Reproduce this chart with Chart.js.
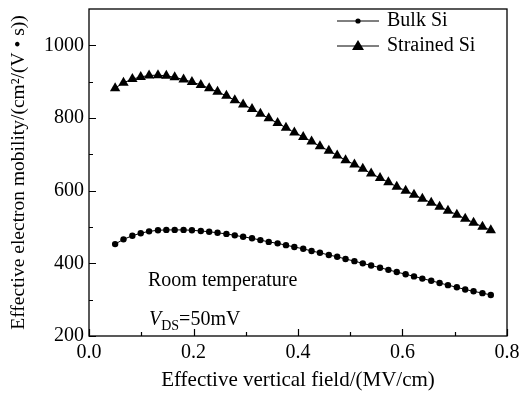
<!DOCTYPE html>
<html>
<head>
<meta charset="utf-8">
<script src="https://cdn.jsdelivr.net/npm/chart.js@4"></script>
<style>
  html, body { margin: 0; padding: 0; background: #fff; }
  #wrap { width: 532px; height: 393px; }
</style>
</head>
<body>
<div id="wrap"><canvas id="chart"></canvas></div>
<script>
// ── Data ──────────────────────────────────────────────────────────────────
const fieldX = [
  0.050, 0.066, 0.083, 0.099, 0.115, 0.132, 0.148, 0.164, 0.181, 0.197,
  0.214, 0.230, 0.246, 0.263, 0.279, 0.295, 0.312, 0.328, 0.344, 0.361,
  0.377, 0.393, 0.410, 0.426, 0.442, 0.459, 0.475, 0.491, 0.508, 0.524,
  0.540, 0.557, 0.573, 0.589, 0.606, 0.622, 0.638, 0.655, 0.671, 0.687,
  0.704, 0.720, 0.736, 0.753, 0.769
];
const bulkSi = [
  453, 466, 476, 483, 488, 491, 492, 492, 492, 491,
  489, 487, 484, 481, 477, 473, 469, 464, 459, 455,
  450, 445, 440, 434, 429, 423, 418, 412, 406, 400,
  394, 388, 382, 376, 370, 364, 358, 352, 346, 340,
  334, 328, 323, 318, 313
];
const strainedSi = [
  882, 897, 907, 913, 917, 918, 916, 912, 906, 899,
  891, 882, 872, 861, 849, 837, 825, 812, 799, 786,
  773, 760, 748, 735, 722, 710, 697, 684, 672, 660,
  647, 635, 623, 611, 600, 589, 578, 567, 556, 545,
  534, 523, 512, 501, 491
];
const xTicks = [0.0, 0.2, 0.4, 0.6, 0.8];
const xMinor = [0.1, 0.3, 0.5, 0.7];
const yTicks = [200, 400, 600, 800, 1000];
const yMinor = [300, 500, 700, 900];

const SERIF = '"Liberation Serif", "DejaVu Serif", serif';

// ── Plugins ───────────────────────────────────────────────────────────────

// frame box + inward ticks
const framePlugin = {
  id: 'frame',
  afterDraw(chart) {
    const { ctx, chartArea: a, scales } = chart;
    ctx.save();
    ctx.strokeStyle = '#000';
    ctx.lineWidth = 1.3;
    ctx.strokeRect(a.left, a.top, a.right - a.left, a.bottom - a.top);
    ctx.lineWidth = 1.2;
    ctx.beginPath();
    const tx = (v, len) => {
      const px = Math.round(scales.x.getPixelForValue(v)) + 0.5;
      ctx.moveTo(px, a.bottom); ctx.lineTo(px, a.bottom - len);
    };
    const ty = (v, len) => {
      const py = Math.round(scales.y.getPixelForValue(v)) + 0.5;
      ctx.moveTo(a.left, py); ctx.lineTo(a.left + len, py);
    };
    xTicks.forEach(v => tx(v, 7));
    xMinor.forEach(v => tx(v, 4));
    yTicks.forEach(v => ty(v, 7));
    yMinor.forEach(v => ty(v, 4));
    ctx.stroke();
    ctx.restore();
  }
};

// legend (line + marker) and the two annotations
const notesPlugin = {
  id: 'notes',
  afterDraw(chart) {
    const { ctx } = chart;
    ctx.save();
    ctx.fillStyle = '#000';
    ctx.strokeStyle = '#000';
    ctx.lineWidth = 1;

    const items = [
      { label: 'Bulk Si', style: 'circle', y: 21 },
      { label: 'Strained Si', style: 'triangle', y: 46 },
    ];
    items.forEach(it => {
      ctx.beginPath();
      ctx.moveTo(337, it.y); ctx.lineTo(379, it.y);
      ctx.stroke();
      ctx.beginPath();
      if (it.style === 'circle') {
        ctx.arc(358, it.y, 2.6, 0, Math.PI * 2);
      } else {
        ctx.moveTo(358, it.y - 6); ctx.lineTo(364, it.y + 4); ctx.lineTo(352, it.y + 4);
        ctx.closePath();
      }
      ctx.fill();
      ctx.font = `20px ${SERIF}`;
      ctx.textBaseline = 'middle';
      ctx.fillText(it.label, 387, it.y);
    });

    ctx.textBaseline = 'alphabetic';
    ctx.font = `20px ${SERIF}`;
    ctx.fillText('Room temperature', 148, 286);

    ctx.font = `italic 20px ${SERIF}`;
    ctx.fillText('V', 149, 325);
    let x = 149 + ctx.measureText('V').width;
    ctx.font = `14px ${SERIF}`;
    ctx.fillText('DS', x, 330);
    x += ctx.measureText('DS').width;
    ctx.font = `20px ${SERIF}`;
    ctx.fillText('=50mV', x, 325);
    ctx.restore();
  }
};

// ── Chart ─────────────────────────────────────────────────────────────────

const toPoints = ys => ys.map((y, i) => ({ x: fieldX[i], y }));

new Chart(document.getElementById('chart'), {
  type: 'scatter',
  data: {
    datasets: [
      {
        label: 'Bulk Si',
        data: toPoints(bulkSi),
        showLine: true,
        borderColor: '#000',
        backgroundColor: '#000',
        borderWidth: 1,
        pointStyle: 'circle',
        pointRadius: 3.2,
        pointBorderWidth: 0,
      },
      {
        label: 'Strained Si',
        data: toPoints(strainedSi),
        showLine: true,
        borderColor: '#000',
        backgroundColor: '#000',
        borderWidth: 1,
        pointStyle: 'triangle',
        pointRadius: 6,
        pointBorderWidth: 0,
      },
    ],
  },
  options: {
    responsive: true,
    maintainAspectRatio: false,
    animation: false,
    layout: { padding: { top: 9, right: 25, left: 7, bottom: 0 } },
    plugins: {
      legend: { display: false },
      tooltip: { enabled: false },
    },
    scales: {
      x: {
        type: 'linear',
        min: 0,
        max: 0.8,
        afterBuildTicks: s => { s.ticks = xTicks.map(v => ({ value: v })); },
        afterFit: s => { s.height = 57; s.paddingLeft = 0; s.paddingRight = 0; },
        grid: { display: false, drawTicks: false },
        border: { display: false },
        ticks: {
          color: '#000',
          padding: 5,
          font: { family: SERIF, size: 20 },
          callback: v => v.toFixed(1),
        },
        title: {
          display: true,
          text: 'Effective vertical field/(MV/cm)',
          color: '#000',
          font: { family: SERIF, size: 21 },
          padding: { top: 0, bottom: 0 },
        },
      },
      y: {
        type: 'linear',
        min: 200,
        max: 1100,
        afterBuildTicks: s => { s.ticks = yTicks.map(v => ({ value: v })); },
        afterFit: s => { s.width = 82; s.paddingTop = 0; s.paddingBottom = 0; },
        grid: { display: false, drawTicks: false },
        border: { display: false },
        ticks: {
          color: '#000',
          padding: 5,
          font: { family: SERIF, size: 20 },
          callback: v => String(v),
        },
        title: {
          display: true,
          text: 'Effective electron mobility/(cm\u00b2/(V \u2022 s))',
          color: '#000',
          font: { family: SERIF, size: 19.5 },
          padding: { top: 0, bottom: 2 },
        },
      },
    },
  },
  plugins: [framePlugin, notesPlugin],
});
</script>
</body>
</html>
